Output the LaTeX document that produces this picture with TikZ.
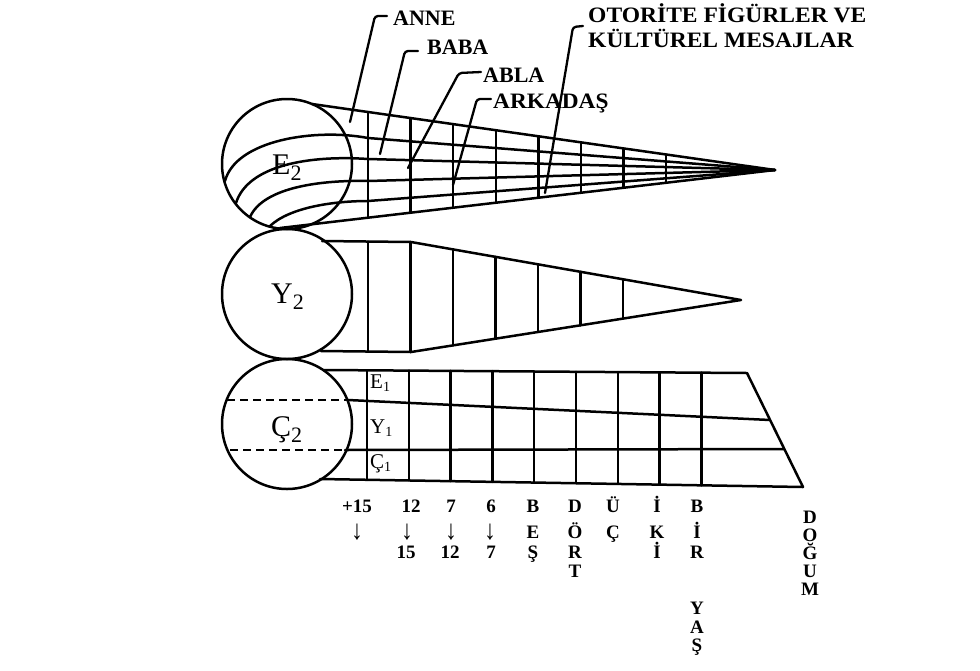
\documentclass[tikz,border=0pt]{standalone}
\usepackage{fontspec}
\setmainfont{Liberation Serif}
\usetikzlibrary{calc}
\newcommand{\dnarrow}{\scalebox{1.25}[1.45]{↓}}
\begin{document}
\begin{tikzpicture}[x=1pt,y=-1pt,
  ln/.style={line width=2.5pt, line join=round, line cap=round},
  leader/.style={line width=2.3pt, rounded corners=3pt, line cap=round},
  lbl/.style={font=\bfseries\fontsize{22}{24}\selectfont, inner sep=0pt, anchor=base west},
  ax/.style={font=\bfseries\fontsize{19}{20}\selectfont, inner sep=0pt, anchor=base},
  circ/.style={circle, draw, line width=2.5pt, minimum size=130pt, inner sep=0pt},
  big/.style={font=\fontsize{30}{32}\selectfont, inner sep=0pt, anchor=base west},
  small/.style={font=\fontsize{21}{22}\selectfont, inner sep=0pt, anchor=base west},
  dsh/.style={line width=2.3pt, dash pattern=on 8pt off 5pt}]
\useasboundingbox (0,0) rectangle (980,670);

% ---------- circles ----------
\node[circ] (E2c) at (287,164) {};
\node[circ] (Y2c) at (287,294) {};
\node[circ] (C2c) at (287,424) {};

% ---------- E2 funnel ----------
\coordinate (E2tip) at (775,170);
\draw[ln] (312,104) -- (E2tip) -- (280,228);
\draw[ln] (225,181) .. controls (236,140) and (315,128) .. (368,138) -- (E2tip);
\draw[ln] (236,203) .. controls (248,165) and (310,155) .. (368,159) -- (E2tip);
\draw[ln] (250,217) .. controls (264,186) and (325,180) .. (368,181) -- (E2tip);
\draw[ln] (270,226) .. controls (290,207) and (335,201) .. (368,201) -- (E2tip);
\foreach \i in {0,...,7}{
  \pgfmathsetmacro\xx{368+42.6*\i}
  \pgfmathsetmacro\yt{104+0.1426*(\xx-312)}
  \pgfmathsetmacro\yb{228-0.1172*(\xx-280)}
  \draw[ln] (\xx,\yt) -- (\xx,\yb);
}

% ---------- Y2 funnel ----------
\coordinate (Y2tip) at (741,300);
\draw[ln] (322,241) -- (411,242) -- (Y2tip) -- (411,352) -- (321,351);
\draw[ln] (368,241.5) -- (368,351.5);
\foreach \i in {1,...,6}{
  \pgfmathsetmacro\xx{368+42.5*\i}
  \pgfmathsetmacro\yt{242+(\xx-411)*58/330}
  \pgfmathsetmacro\yb{352-(\xx-411)*52/330}
  \draw[ln] (\xx,\yt) -- (\xx,\yb);
}

% ---------- C2 funnel ----------
\draw[ln] (324,370) -- (747,373) -- (803,487) -- (320,479);
\draw[ln] (348,400) -- (770,420);
\draw[ln] (345,450) -- (784,449);
\draw[dsh] (227,400) -- (348,400);
\draw[dsh] (230,450) -- (345,450);
\foreach \i in {0,...,8}{
  \pgfmathsetmacro\xx{367+41.8*\i}
  \pgfmathsetmacro\yt{370+3*(\xx-324)/423}
  \pgfmathsetmacro\yb{479+8*(\xx-320)/483}
  \draw[ln] (\xx,\yt) -- (\xx,\yb);
}

% ---------- circle labels ----------
\node[big] (E2t) at (272,174) {E\raisebox{-6pt}{\fontsize{22}{22}\selectfont 2}};
\node[big] (Y2t) at (271,303) {Y\raisebox{-6pt}{\fontsize{22}{22}\selectfont 2}};
\node[big] (C2t) at (271,436) {Ç\raisebox{-6pt}{\fontsize{22}{22}\selectfont 2}};
\node[small] (E1t) at (370,388) {E\raisebox{-3pt}{\fontsize{14}{14}\selectfont 1}};
\node[small] (Y1t) at (370,433) {Y\raisebox{-3pt}{\fontsize{14}{14}\selectfont 1}};
\node[small] (C1t) at (370,468) {Ç\raisebox{-3pt}{\fontsize{14}{14}\selectfont 1}};

% ---------- top labels ----------
\node[lbl] (anne) at (393,25) {ANNE};
\node[lbl] (baba) at (427,54) {BABA};
\node[lbl] (abla) at (483,82) {ABLA};
\node[lbl] (ark) at (493,108) {\scalebox{1.06}[1]{ARKADAŞ}};
\node[lbl] (oto1) at (588,22) {\scalebox{1.07}[1]{OTORİTE FİGÜRLER VE}};
\node[lbl] (oto2) at (588,47) {\scalebox{1.07}[1]{KÜLTÜREL MESAJLAR}};

\coordinate (anneP) at (350,122);
\coordinate (babaP) at (380,154);
\coordinate (ablaP) at (408,168);
\coordinate (arkP) at (453,185);
\coordinate (otoP) at (545,193);
\draw[leader] ([xshift=-6pt,yshift=9pt]anne.base west) -- ++(-12,0) -- (anneP);
\draw[leader] ([xshift=-9pt,yshift=3pt]baba.base west) -- ++(-13,0) -- (babaP);
\draw[leader] ([xshift=-2pt,yshift=10pt]abla.base west) -- ++(-22,1) -- (ablaP);
\draw[leader] ([xshift=-2pt,yshift=9pt]ark.base west) -- ++(-14,0) -- (arkP);
\draw[leader] ([xshift=-5pt,yshift=-4pt]oto1.base west) -- ++(-10,1) -- (otoP);

% ---------- bottom labels ----------
\foreach \xx/\yy/\tt [count=\n] in {
  357/512/+15, 357/539/\dnarrow,
  411/512/12, 407/539/\dnarrow, 406/558/15,
  451/512/7, 451/539/\dnarrow, 450/558/12,
  491/512/6, 490/539/\dnarrow, 491/558/7,
  533/512/B, 533/538/E, 533/558/Ş,
  575/512/D, 575/538/Ö, 575/558/R, 575/577/T,
  613/512/Ü, 613/538/Ç,
  657/512/İ, 657/538/K, 657/558/İ,
  697/512/B, 697/538/İ, 697/558/R, 697/614/Y, 697/633/A, 697/651/Ş,
  810/523/D, 810/541/O, 810/559/Ğ, 810/577/U, 810/595/M}{
  \node[ax] (b\n) at (\xx,\yy) {\tt};
}
\end{tikzpicture}
\end{document}
